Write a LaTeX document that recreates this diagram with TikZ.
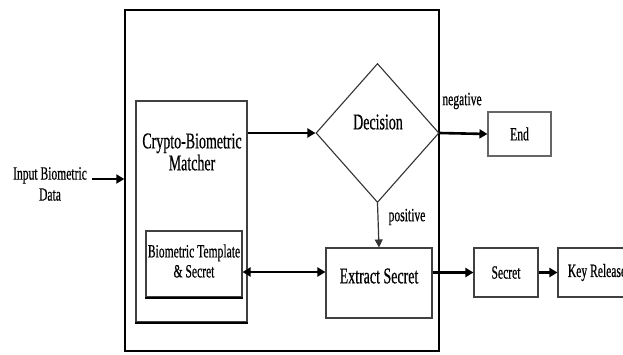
\documentclass[tikz,border=0pt]{standalone}
\usepackage{fontspec}
\setmainfont{Liberation Serif}[FakeStretch=0.62,FakeBold=0.5,AutoFakeBold=0.5]
\usetikzlibrary{arrows.meta,shapes.geometric}
\begin{document}
\begin{tikzpicture}[x=1pt,y=-1pt,
  box/.style={draw=black!75,line width=1.1pt,rectangle,inner sep=0pt},
  big/.style={font=\fontsize{22.5}{25}\selectfont\bfseries},
  small/.style={font=\fontsize{18.7}{22}\selectfont\bfseries},
  txt/.style={inner sep=0pt,align=center},
  arr/.style={line width=2.6pt,-{Triangle[length=8pt,width=9pt]}},
  darr/.style={line width=2.6pt,{Triangle[length=8pt,width=9pt]}-{Triangle[length=8pt,width=9pt]}}]
\useasboundingbox (0,0) rectangle (623,354);

% enclosing frame of the crypto-biometric system
\node[box,draw=black,line width=1.4pt,minimum width=314pt,minimum height=341pt] (frame) at (282,180.5) {};

% matcher with the stored template inside
\node[box,minimum width=111pt,minimum height=221pt] (mat) at (191.5,211.5) {};
\draw[line width=2pt] (mat.south west) -- (mat.south east);
\node[txt,big] (mattxt) at (192,152) {Crypto-Biometric\\[-3pt]Matcher};
\node[box,minimum width=96pt,minimum height=66pt] (tpl) at (194,264) {};
\draw[line width=2pt] (tpl.south west) -- (tpl.south east);
\node[txt,small] (tpltxt) at (194,261) {Biometric Template\\[-2pt]\& Secret};

% decision diamond
\node[draw=black!80,line width=1.1pt,diamond,aspect=0.885,minimum width=123pt,minimum height=139pt,inner sep=0pt] (dec) at (377.5,133) {};
\node[txt,big] (dectxt) at (378,122) {Decision};

% remaining blocks
\node[box,minimum width=106pt,minimum height=70pt] (ext) at (379,283) {};
\node[txt,big] (exttxt) at (379,276) {Extract Secret};
\node[box,draw=black!60,minimum width=63pt,minimum height=44pt,small] (end) at (519.5,134) {End};
\node[box,minimum width=64pt,minimum height=49pt,small] (sec) at (506,272.5) {Secret};
\node[box,minimum width=78pt,minimum height=49pt,small] (key) at (597,272.5) {Key Release};

% input label
\node[txt,small] (inp) at (50,184) {Input Biometric\\[-1pt]Data};
\coordinate (inE) at (92,179);
\coordinate (row) at (0,272);

% connectors
\draw[arr] (inE) -- (frame.west |- inE);
\draw[arr] (mat.east |- dec.west) -- (dec.west);
\draw[arr] (dec.east) -- (end.west);
\draw[line width=1.2pt,black!80,-{Triangle[length=8pt,width=8pt]}] (dec.south) -- (ext.north);
\draw[darr] (tpl.east |- row) -- (ext.west |- row);
\draw[arr] (ext.east |- sec.west) -- (sec.west);
\draw[arr] (sec.east) -- (key.west);

% branch labels
\node[txt,small] (neg) at (462,101) {negative};
\node[txt,small] (pos) at (407,217) {positive};
\end{tikzpicture}
\end{document}
